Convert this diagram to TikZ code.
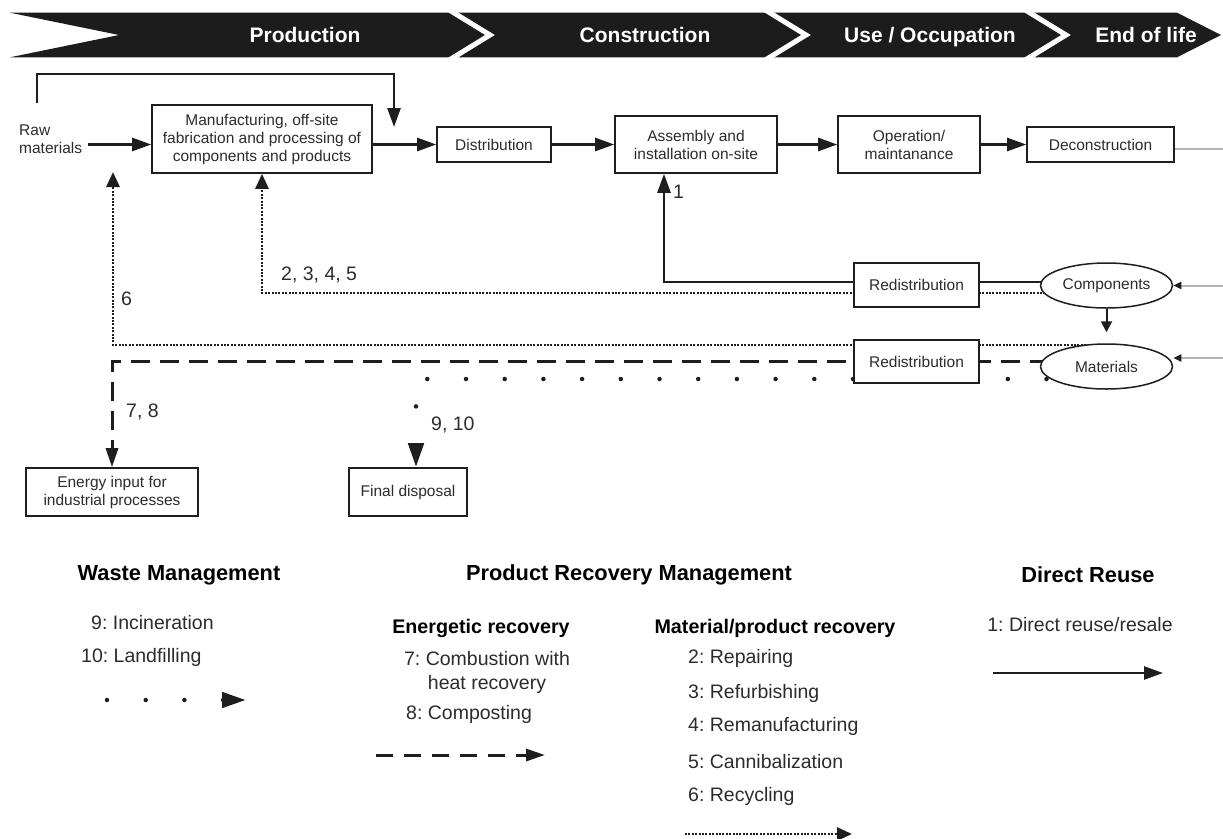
\documentclass[tikz,border=0pt]{standalone}
\usepackage{fontspec}
\setmainfont{Liberation Sans}
\usetikzlibrary{arrows.meta,shapes.geometric}
\pgfdeclarelayer{background}
\pgfsetlayers{background,main}
\frenchspacing

\definecolor{ink}{HTML}{1E1E1E}
\definecolor{txt}{HTML}{2C2C2C}
\definecolor{feedgray}{HTML}{B4B4B4}
\definecolor{band}{HTML}{1C1C1C}

\newcommand\fsz[2]{\fontsize{#1}{#2}\selectfont}

\begin{document}
\begin{tikzpicture}[x=1pt,y=-1pt,
  box/.style={draw=ink, line width=1.6pt, fill=white, text=txt, align=center,
              inner sep=2pt, font=\fsz{15.5}{18}},
  oval/.style={ellipse, draw=ink, line width=1.5pt, fill=white, text=txt,
               inner sep=0pt, font=\fsz{15.5}{18}},
  bannertext/.style={text=white, font=\fsz{21}{24}\bfseries, inner sep=0pt, anchor=base},
  lab/.style={text=txt, inner sep=0pt, font=\fsz{19.5}{22}},
  head/.style={text=black, inner sep=0pt, font=\fsz{21.8}{25}\bfseries},
  subhead/.style={text=black, inner sep=0pt, font=\fsz{19.7}{23}\bfseries},
  item/.style={text=txt, inner sep=0pt, font=\fsz{19.5}{24}},
  flow/.style={draw=ink, line width=2.5pt, -{Triangle[length=19pt,width=13pt]}},
  fine/.style={draw=ink, line width=2.8pt, dash pattern=on 1.9pt off 1.5pt,
               -{Triangle[length=15pt,width=13pt]}},
  energyline/.style={draw=ink, line width=3pt, dash pattern=on 19pt off 10pt,
                     -{Triangle[length=19pt,width=12pt]}},
  wasteline/.style={draw=ink, line width=4.5pt, line cap=round,
                    dash pattern=on 0pt off 38.7pt,
                    -{Triangle[length=24pt,width=15pt]}},
  feedline/.style={draw=feedgray, line width=2pt},
  smallarrow/.style={draw=ink, line width=2pt, -{Triangle[length=11pt,width=11pt]}}
]
\useasboundingbox (0,0) rectangle (1223,838);
\begin{pgfonlayer}{background}
  \fill[white] (0,0) rectangle (1223,838);
\end{pgfonlayer}

% ---------- life-cycle banner ----------
\fill[band] (10,12.7) -- (1177,12.7) -- (1221,35) -- (1177,57.3) -- (10,57.3) -- (119,35) -- cycle;
\foreach \s in {446,762,1022}
  \draw[white, line width=5pt] (\s,8) -- (\s+44,35) -- (\s,62);
\node[bannertext] (ph1) at (305,42) {Production};
\node[bannertext] (ph2) at (645,42) {Construction};
\node[bannertext] (ph3) at (930,42) {Use / Occupation};
\node[bannertext] (ph4) at (1146,42) {End of life};

% ---------- process nodes ----------
\node[anchor=west, align=left, inner sep=0pt, text=txt, font=\fsz{15.5}{18}] (raw) at (19,139) {Raw\\materials};
\node[box, minimum width=220pt, minimum height=68pt] (manu) at (262,139)
  {Manufacturing, off-site\\fabrication and processing of\\components and products};
\node[box, minimum width=114pt, minimum height=35pt] (dist) at (494,144.5) {Distribution};
\node[box, minimum width=162pt, minimum height=57pt] (asm) at (696,144.5) {Assembly and\\installation on-site};
\node[box, minimum width=142pt, minimum height=57pt] (oper) at (909,144.5) {Operation/\\maintanance};
\node[box, minimum width=147pt, minimum height=35pt] (decon) at (1100.5,144.5) {Deconstruction};
\node[box, minimum width=125pt, minimum height=44pt] (red1) at (916.5,285) {Redistribution};
\node[box, minimum width=125pt, minimum height=43pt] (red2) at (916.5,361.5) {Redistribution};
\node[oval, minimum width=132pt, minimum height=45pt] (comp) at (1106.5,285.5) {Components};
\node[oval, minimum width=132pt, minimum height=45pt] (mat) at (1106.5,366.5) {Materials};
\node[box, minimum width=172pt, minimum height=48pt] (enin) at (112,492) {Energy input for\\industrial processes};
\node[box, minimum width=118pt, minimum height=48pt] (final) at (408,492) {Final disposal};

% free ends of connectors
\coordinate (byS) at (37,103);
\coordinate (byTop) at (394,74);
\coordinate (byE) at (394,127);
\coordinate (recyc) at (113,172);
\coordinate (fD) at (1223,149);
\coordinate (fC) at (1223,285.5);
\coordinate (fM) at (1223,358);

% ---------- connectors ----------
\begin{pgfonlayer}{background}
  \draw[flow, shorten <=6pt] (raw.east |- dist.west) -- (manu.west |- dist.west);
  \draw[flow] (manu.east |- dist.west) -- (dist.west);
  \draw[flow] (dist) -- (asm);
  \draw[flow] (asm) -- (oper);
  \draw[flow] (oper) -- (decon);
  \draw[flow] (byS) |- (byTop) -- (byE);
  % direct reuse
  \draw[flow] ([yshift=3.5pt]comp.center) -| ([xshift=-32pt]asm.south);
  % repairing ... cannibalization
  \draw[fine] ([yshift=-7.5pt]comp.center) -| (manu.south);
  % recycling
  \draw[fine] ([yshift=21.5pt]mat.center) -| (recyc);
  % energetic recovery
  \draw[energyline] ([yshift=5.5pt]mat.center) -| (enin.north);
  % incineration / landfilling
  \draw[wasteline, dash phase=17.4pt] ([yshift=-12.5pt]mat.center) -| ([xshift=8pt]final.north);
  % components to materials
  \draw[smallarrow, shorten >=11pt] (comp) -- (mat);
  % inflows from the end of life
  \draw[feedline] ([yshift=-4.5pt]decon.east) -- (fD);
  \draw[feedline, -{Triangle[length=8pt,width=7pt,color=ink]}] (fC) -- (comp.east);
  \draw[feedline, -{Triangle[length=8pt,width=7pt,color=ink]}] (fM) -- (fM -| mat.east);
\end{pgfonlayer}

% ---------- connector labels ----------
\node[lab, anchor=west] (l1) at (673,192) {1};
\node[lab, anchor=west] (l2) at (281,275) {2, 3, 4, 5};
\node[lab, anchor=west] (l6) at (121,299) {6};
\node[lab, anchor=west] (l78) at (126,412) {7, 8};
\node[lab, anchor=west] (l910) at (431,425) {9, 10};

% ---------- legend ----------
\node[head] (wm) at (179,575) {Waste Management};
\node[item, anchor=west] (i9) at (91,623) {9: Incineration};
\node[item, anchor=west] (i10) at (81,657) {10: Landfilling};
\coordinate (wA) at (107,700);
\coordinate (wB) at (246,700);
\draw[wasteline] (wA) -- (wB);

\node[head] (prm) at (629,575) {Product Recovery Management};
\node[subhead] (er) at (481,628) {Energetic recovery};
\node[item, align=center] (i7) at (487,672) {7: Combustion with\\heat recovery};
\node[item, anchor=west] (i8) at (406,714) {8: Composting};
\coordinate (eA) at (376,755);
\coordinate (eB) at (545,755);
\draw[energyline, dash pattern=on 17pt off 11pt] (eA) -- (eB);

\node[subhead] (mpr) at (775,628) {Material/product recovery};
\node[item, anchor=west] (i2) at (688,658) {2: Repairing};
\node[item, anchor=west] (i3) at (688,693) {3: Refurbishing};
\node[item, anchor=west] (i4) at (688,726) {4: Remanufacturing};
\node[item, anchor=west] (i5) at (688,762) {5: Cannibalization};
\node[item, anchor=west] (i6) at (688,796) {6: Recycling};
\coordinate (mA) at (685,834);
\coordinate (mB) at (852,834);
\draw[fine] (mA) -- (mB);

\node[head] (dr) at (1088,575) {Direct Reuse};
\node[item] (i1) at (1080,625) {1: Direct reuse/resale};
\coordinate (dA) at (993,673);
\coordinate (dB) at (1163,673);
\draw[flow] (dA) -- (dB);
\end{tikzpicture}
\end{document}
